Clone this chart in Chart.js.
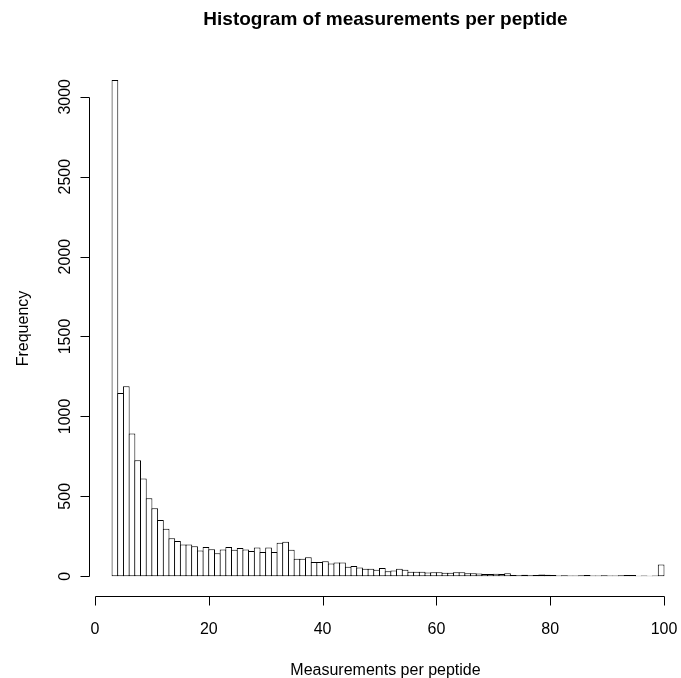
<!DOCTYPE html>
<html>
<head>
<meta charset="utf-8">
<script src="https://cdn.jsdelivr.net/npm/chart.js@4.4.1/dist/chart.umd.min.js"></script>
<style>
  html, body { margin: 0; background: #fff; }
  #wrap { width: 681px; height: 678px; }
</style>
</head>
<body>
<div id="wrap"><canvas id="hist"></canvas></div>
<script>
// left edge of each one-unit bin
const binStarts = [
  3, 4, 5, 6, 7, 8, 9, 10, 11, 12, 13, 14, 15, 16, 17, 18, 19, 20,
  21, 22, 23, 24, 25, 26, 27, 28, 29, 30, 31, 32, 33, 34, 35, 36, 37, 38, 39, 40,
  41, 42, 43, 44, 45, 46, 47, 48, 49, 50, 51, 52, 53, 54, 55, 56, 57, 58, 59, 60,
  61, 62, 63, 64, 65, 66, 67, 68, 69, 70, 71, 72, 73, 74, 75, 76, 77, 78, 79, 80,
  81, 82, 83, 84, 85, 86, 87, 88, 89, 90, 91, 92, 93, 94, 95, 96, 97, 98, 99
];
const counts = [
  3105, 1147, 1188, 893, 726, 612, 488, 425, 351, 297, 237, 220, 199, 199, 188, 161, 182, 168,
  144, 167, 182, 165, 176, 167, 157, 180, 151, 180, 151, 209, 215, 165, 109, 109, 119, 88, 88, 94,
  80, 86, 86, 59, 64, 54, 46, 46, 40, 52, 31, 36, 46, 40, 27, 27, 27, 23, 25, 25,
  21, 21, 25, 25, 19, 19, 17, 13, 13, 15, 14, 19, 8, 6, 9, 6, 7, 10, 9, 8,
  5, 6, 4, 4, 6, 7, 5, 4, 6, 5, 4, 6, 7, 8, 3, 4, 3, 5, 73
];
const xTicks = [0, 20, 40, 60, 80, 100];
const yTicks = [0, 500, 1000, 1500, 2000, 2500, 3000];

const FONT = '"Liberation Sans", Arial, Helvetica, sans-serif';

// base-R style axes: line only from first to last tick, outward ticks, rotated y labels
const rAxes = {
  id: 'rAxes',
  afterDraw(chart) {
    const { ctx, chartArea, scales: { x, y } } = chart;
    ctx.save();
    ctx.strokeStyle = '#000';
    ctx.fillStyle = '#000';
    ctx.lineWidth = 1;

    const yb = Math.round(chartArea.bottom) + 0.5;
    ctx.beginPath();
    ctx.moveTo(Math.round(x.getPixelForValue(xTicks[0])) + 0.5, yb);
    ctx.lineTo(Math.round(x.getPixelForValue(xTicks[xTicks.length - 1])) + 0.5, yb);
    xTicks.forEach(t => {
      const px = Math.round(x.getPixelForValue(t)) + 0.5;
      ctx.moveTo(px, yb);
      ctx.lineTo(px, yb + 9);
    });

    const xl = Math.round(chartArea.left) - 0.5;
    ctx.moveTo(xl, Math.round(y.getPixelForValue(yTicks[0])) + 0.5);
    ctx.lineTo(xl, Math.round(y.getPixelForValue(yTicks[yTicks.length - 1])) + 0.5);
    yTicks.forEach(t => {
      const py = Math.round(y.getPixelForValue(t)) + 0.5;
      ctx.moveTo(xl, py);
      ctx.lineTo(xl - 9, py);
    });
    ctx.stroke();

    ctx.font = '16px ' + FONT;
    ctx.textAlign = 'center';
    ctx.textBaseline = 'alphabetic';
    xTicks.forEach(t => ctx.fillText(String(t), x.getPixelForValue(t), yb + 37));

    yTicks.forEach(t => {
      ctx.save();
      ctx.translate(xl - 20, y.getPixelForValue(t));
      ctx.rotate(-Math.PI / 2);
      ctx.fillText(String(t), 0, 0);
      ctx.restore();
    });

    // R centres the labels on the plot region, which runs past the canvas edge
    const cx = x.getPixelForValue(50) + 6;
    const cy = (chartArea.top + chartArea.bottom) / 2;
    ctx.fillText('Measurements per peptide', cx, yb + 78);

    ctx.save();
    ctx.translate(28, cy);
    ctx.rotate(-Math.PI / 2);
    ctx.fillText('Frequency', 0, 0);
    ctx.restore();

    ctx.font = 'bold 19px ' + FONT;
    ctx.fillText('Histogram of measurements per peptide', cx, 25);
    ctx.restore();
  }
};

new Chart(document.getElementById('hist'), {
  type: 'bar',
  data: {
    datasets: [{
      data: binStarts.map((s, i) => ({ x: s + 0.5, y: counts[i] })),
      backgroundColor: '#ffffff',
      borderColor: '#000000',
      borderWidth: 1,
      borderSkipped: false,
      inflateAmount: 0,
      barPercentage: 1.176,
      categoryPercentage: 1
    }]
  },
  options: {
    responsive: true,
    maintainAspectRatio: false,
    animation: false,
    events: [],
    layout: { padding: { left: 90, right: 0, top: 61, bottom: 82 } },
    plugins: {
      legend: { display: false },
      tooltip: { enabled: false }
    },
    scales: {
      x: { type: 'linear', min: -0.88, max: 102.99, offset: false, display: false },
      y: { type: 'linear', min: -124, max: 3224, display: false }
    }
  },
  plugins: [rAxes]
});
</script>
</body>
</html>
